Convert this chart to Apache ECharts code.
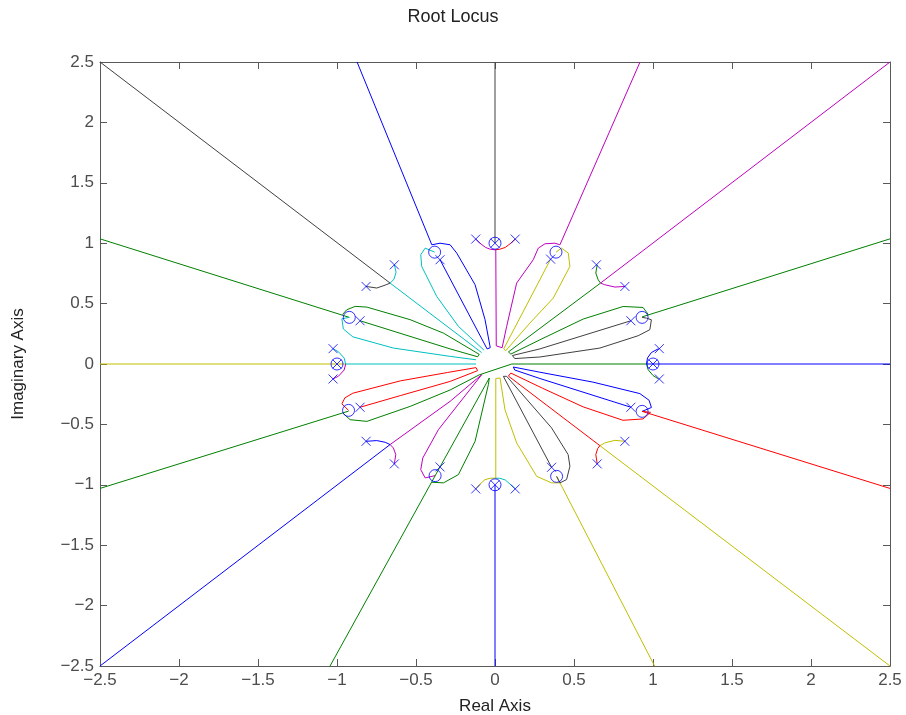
<!DOCTYPE html>
<html><head><meta charset="utf-8">
<script src="https://cdn.jsdelivr.net/npm/echarts@6/dist/echarts.min.js"></script>
<style>html,body{margin:0;padding:0;background:#fff}#c{width:906px;height:715px}</style>
</head><body><div id="c"></div>
<script>
// ---- tick labels ----
const xTicks = [-2.5,-2,-1.5,-1,-0.5,0,0.5,1,1.5,2,2.5];
const yTicks = [-2.5,-2,-1.5,-1,-0.5,0,0.5,1,1.5,2,2.5];

// ---- poles (x) and zeros (o) ----
const poles = [[-0.122,1.034],[0.128,1.034],[0,1],[-0.348,0.863],[0.352,0.868],[-0.637,0.821],[-0.816,0.642],
  [0.642,0.821],[0.822,0.642],[-0.854,0.358],[0.86,0.358],[-1.025,0.127],[-1.025,-0.124],[-1,0],
  [1.04,0.127],[1.04,-0.124],[1,0],[-0.854,-0.358],[0.86,-0.358],[-0.816,-0.64],[-0.637,-0.827],
  [0.647,-0.827],[0.822,-0.64],[-0.348,-0.852],[0.358,-0.855],[-0.122,-1.034],[0.128,-1.034],[0,-1]];
const zeros = [[0,1],[0,-1],[-1,0],[1,0],[-0.382,0.926],[0.386,0.926],[-0.922,0.386],[0.931,0.386],
  [-0.379,-0.924],[0.39,-0.93],[-0.927,-0.384],[0.931,-0.392]];

// ---- branches ----
// 90 deg
const k90Ray = [[0,2.5],[0,1.0]];
const m90ArcL = [[-0.122,1.034],[-0.095,1.0],[-0.06,0.965],[-0.03,0.95],[0,0.945]];
const r90ArcR = [[0.128,1.034],[0.1,1.0],[0.065,0.965],[0.03,0.95],[0,0.945]];
const m90Down = [[0.005,0.945],[0.008,0.15],[0.045,0.135]];
// 67.5 deg
const m67Ray = [[0.918,2.5],[0.411,0.987]];
const m67Loop = [[0.411,0.987],[0.379,1.0],[0.316,0.995],[0.274,0.959],[0.242,0.863],[0.137,0.67],[0.074,0.312],[0.045,0.135]];
const y67Inner = [[0.352,0.868],[0.055,0.125]];
const y67Loop = [[0.386,0.926],[0.421,0.959],[0.464,0.918],[0.474,0.808],[0.369,0.546],[0.221,0.339],[0.068,0.11],[0.055,0.125]];
// 45 deg
const g45Arc = [[0.647,0.821],[0.638,0.753],[0.653,0.697],[0.668,0.67]];
const m45Arc = [[0.822,0.642],[0.759,0.637],[0.695,0.656],[0.668,0.67]];
const m45Ray = [[0.668,0.67],[2.5,2.5]];
const g45Line = [[0.668,0.67],[0.085,0.1]];
// 22.5 deg
const g22Ray = [[2.5,1.036],[0.931,0.39]];
const g22Loop = [[0.97,0.41],[0.937,0.468],[0.811,0.476],[0.558,0.372],[0.284,0.2],[0.1,0.082],[0.085,0.1]];
const k22Loop = [[0.931,0.386],[0.959,0.38],[0.99,0.366],[0.98,0.284],[0.906,0.234],[0.664,0.132],[0.284,0.058],[0.125,0.045]];
const k22Inner = [[0.86,0.358],[0.284,0.125],[0.11,0.07],[0.125,0.045]];
// 0 deg
const b0Arc = [[1.035,0.127],[0.99,0.095],[0.965,0.05],[0.959,0]];
const g0Arc = [[0.959,0],[0.969,-0.047],[1.0,-0.095],[1.035,-0.124]];
const b0Ray = [[0.959,0],[2.5,0]];
// -22.5 deg
const b337Loop = [[0.116,-0.025],[0.284,-0.068],[0.62,-0.15],[0.917,-0.245],[0.975,-0.3],[0.99,-0.36],[0.931,-0.392]];
const b337Inner = [[0.86,-0.358],[0.284,-0.12],[0.125,-0.05],[0.116,-0.025]];
const r337Loop = [[0.1,-0.075],[0.3,-0.2],[0.558,-0.355],[0.81,-0.466],[0.937,-0.455],[0.984,-0.4],[0.931,-0.392]];
const r337Ray = [[0.931,-0.392],[2.5,-1.03]];
// -45 deg
const y315Arc = [[0.822,-0.64],[0.759,-0.632],[0.695,-0.653],[0.664,-0.676]];
const r315Arc = [[0.647,-0.827],[0.638,-0.75],[0.65,-0.7],[0.664,-0.676]];
const y315Ray = [[0.664,-0.676],[2.5,-2.5]];
const r315Line = [[0.664,-0.676],[0.085,-0.1],[0.1,-0.075]];
// -67.5 deg
const y292Loop = [[0.032,-0.116],[0.063,-0.378],[0.137,-0.653],[0.264,-0.93],[0.358,-0.984],[0.411,-0.984]];
const y292Ray = [[0.39,-0.93],[1.01,-2.5]];
const k292Inner = [[0.358,-0.855],[0.053,-0.102]];
const k292Loop = [[0.053,-0.102],[0.074,-0.102],[0.358,-0.529],[0.463,-0.75],[0.474,-0.847],[0.453,-0.957],[0.411,-0.984],[0.39,-0.93]];
// -90 deg
const y270ArcL = [[-0.122,-1.034],[-0.1,-1.0],[-0.063,-0.957],[-0.03,-0.946],[0,-0.945]];
const c270ArcR = [[0.128,-1.034],[0.1,-1.0],[0.065,-0.96],[0.03,-0.946],[0,-0.945]];
const y270Up = [[0.005,-0.945],[0.005,-0.12],[0.032,-0.116]];
const b270Ray = [[0,-1],[0,-2.5]];
// -112.5 deg
const m247Loop = [[-0.379,-0.924],[-0.442,-0.943],[-0.47,-0.874],[-0.457,-0.778],[-0.358,-0.543],[-0.084,-0.088]];
const g247Line = [[-1.044,-2.5],[-0.348,-0.852],[-0.036,-0.116]];
const g247Loop = [[-0.4,-0.979],[-0.326,-0.984],[-0.232,-0.916],[-0.126,-0.64],[-0.042,-0.171],[-0.036,-0.116]];
// -135 deg
const b225Arc = [[-0.816,-0.64],[-0.748,-0.634],[-0.695,-0.648],[-0.664,-0.667]];
const m225Arc = [[-0.637,-0.827],[-0.628,-0.75],[-0.643,-0.695],[-0.664,-0.667]];
const b225Ray = [[-0.664,-0.667],[-2.5,-2.5]];
const m225Line = [[-0.664,-0.667],[-0.284,-0.309],[-0.084,-0.088]];
// -157.5 deg
const g202Ray = [[-2.5,-1.03],[-0.927,-0.39]];
const r202Loop = [[-0.927,-0.384],[-0.969,-0.33],[-0.95,-0.28],[-0.9,-0.242],[-0.6,-0.14],[-0.3,-0.07],[-0.12,-0.03]];
const r202Inner = [[-0.854,-0.358],[-0.6,-0.262],[-0.284,-0.144],[-0.11,-0.055],[-0.12,-0.03]];
const g202Loop = [[-0.96,-0.41],[-0.917,-0.461],[-0.811,-0.475],[-0.537,-0.351],[-0.284,-0.215],[-0.1,-0.09],[0.106,0],[0.959,0]];
// 180 deg
const y180Ray = [[-2.5,0],[-0.945,0]];
const c180Arc = [[-1.025,0.127],[-0.99,0.1],[-0.955,0.05],[-0.945,0]];
const m180Arc = [[-1.025,-0.124],[-0.99,-0.1],[-0.955,-0.05],[-0.945,0]];
const c180Line = [[-0.945,0],[-0.12,0]];
// 157.5 deg
const g157Ray = [[-2.5,1.036],[-0.922,0.386]];
const g157Loop = [[-0.965,0.41],[-0.938,0.449],[-0.885,0.477],[-0.811,0.471],[-0.537,0.367],[-0.327,0.256],[-0.1,0.08]];
const g157Inner = [[-0.854,0.358],[-0.284,0.125],[-0.11,0.06],[-0.1,0.08]];
const c157Loop = [[-0.922,0.386],[-0.969,0.375],[-0.96,0.29],[-0.9,0.225],[-0.643,0.132],[-0.284,0.063],[-0.12,0.035]];
// 135 deg
const c135Arc = [[-0.637,0.821],[-0.626,0.76],[-0.64,0.7],[-0.664,0.67]];
const k135Arc = [[-0.816,0.642],[-0.748,0.629],[-0.689,0.656],[-0.664,0.67]];
const k135Ray = [[-0.664,0.67],[-2.5,2.5]];
const c135Line = [[-0.664,0.67],[-0.085,0.095]];
// 112.5 deg
const b112Ray = [[-0.873,2.5],[-0.4,0.987]];
const b112Loop = [[-0.4,0.987],[-0.348,1.0],[-0.284,0.987],[-0.242,0.918],[-0.126,0.656],[-0.063,0.367],[-0.03,0.135]];
const b112Inner = [[-0.348,0.863],[-0.05,0.125],[-0.03,0.135]];
const c112Loop = [[-0.382,0.926],[-0.442,0.959],[-0.47,0.904],[-0.464,0.808],[-0.369,0.56],[-0.232,0.312],[-0.07,0.115]];

// ---- colours ----
const C = {b:'#0000ff', g:'#008000', r:'#ff0000', c:'#00bfbf', m:'#bf00bf', y:'#bfbf00', k:'#404040'};

const branches = [
  [k90Ray,C.k],[m90ArcL,C.m],[r90ArcR,C.r],[m90Down,C.m],
  [m67Ray,C.m],[m67Loop,C.m],[y67Inner,C.y],[y67Loop,C.y],
  [g45Arc,C.g],[m45Arc,C.m],[m45Ray,C.m],[g45Line,C.g],
  [g22Ray,C.g],[g22Loop,C.g],[k22Loop,C.k],[k22Inner,C.k],
  [b0Arc,C.b],[g0Arc,C.g],[b0Ray,C.b],
  [b337Loop,C.b],[b337Inner,C.b],[r337Loop,C.r],[r337Ray,C.r],
  [y315Arc,C.y],[r315Arc,C.r],[y315Ray,C.y],[r315Line,C.r],
  [y292Loop,C.y],[y292Ray,C.y],[k292Inner,C.k],[k292Loop,C.k],
  [y270ArcL,C.y],[c270ArcR,C.c],[y270Up,C.y],[b270Ray,C.b],
  [m247Loop,C.m],[g247Line,C.g],[g247Loop,C.g],
  [b225Arc,C.b],[m225Arc,C.m],[b225Ray,C.b],[m225Line,C.m],
  [g202Ray,C.g],[r202Loop,C.r],[r202Inner,C.r],[g202Loop,C.g],
  [y180Ray,C.y],[c180Arc,C.c],[m180Arc,C.m],[c180Line,C.c],
  [g157Ray,C.g],[g157Loop,C.g],[g157Inner,C.g],[c157Loop,C.c],
  [c135Arc,C.c],[k135Arc,C.k],[k135Ray,C.k],[c135Line,C.c],
  [b112Ray,C.b],[b112Loop,C.b],[b112Inner,C.b],[c112Loop,C.c]
];

const fmt = v => (v < 0 ? '\u2212' : '') + String(Math.abs(v));
const axCol = '#595959', txtCol = '#4d4d4d', FONT = '"Liberation Sans", Arial, sans-serif';

const series = branches.map(([d, col]) => ({
  type:'line', data:d, showSymbol:false, symbol:'none', silent:true,
  lineStyle:{color:col, width:1}, z:2, clip:true
}));
series.push({
  type:'scatter', data:zeros, symbol:'circle', symbolSize:12, z:5,
  itemStyle:{color:'rgba(0,0,0,0)', borderColor:'#0000ff', borderWidth:1}
});
series.push({
  type:'scatter', data:poles, symbol:'path://M0,0L10,10M10,0L0,10', symbolSize:9, z:6,
  itemStyle:{color:'rgba(0,0,0,0)', borderColor:'#0000ff', borderWidth:1}
});

const baseAxis = (pos, show, ticks) => ({
  type:'value', position:pos, min:ticks[0], max:ticks[ticks.length-1], interval:0.5,
  axisLine:{show:true, onZero:false, lineStyle:{color:axCol, width:1}},
  axisTick:{show:true, inside:true, length:7, lineStyle:{color:axCol}},
  axisLabel:{show:show, color:txtCol, fontSize:17, fontFamily:FONT, formatter:fmt},
  splitLine:{show:false}
});

const xb = baseAxis('bottom', true, xTicks);
xb.axisLabel.margin = 6;
xb.name = 'Real Axis'; xb.nameLocation = 'middle'; xb.nameGap = 32;
xb.nameTextStyle = {color:'#222', fontSize:17, fontFamily:FONT};
const xt = baseAxis('top', false, xTicks);
const yl = baseAxis('left', true, yTicks);
yl.axisLabel.margin = 6;
yl.name = 'Imaginary Axis'; yl.nameLocation = 'middle'; yl.nameGap = 73;
yl.nameTextStyle = {color:'#222', fontSize:17, fontFamily:FONT};
const yr = baseAxis('right', false, yTicks);

const chart = echarts.init(document.getElementById('c'), null, {renderer:'canvas'});
chart.setOption({
  animation:false,
  backgroundColor:'#fff',
  title:{text:'Root Locus', left:'center', top:3, textStyle:{color:'#222', fontSize:18, fontWeight:'normal', fontFamily:FONT}},
  grid:{left:100, right:16, top:62, bottom:49, containLabel:false, outerBoundsMode:'none'},
  xAxis:[xb, xt],
  yAxis:[yl, yr],
  series: series.map(s => Object.assign(s, {xAxisIndex:0, yAxisIndex:0}))
});
</script></body></html>
